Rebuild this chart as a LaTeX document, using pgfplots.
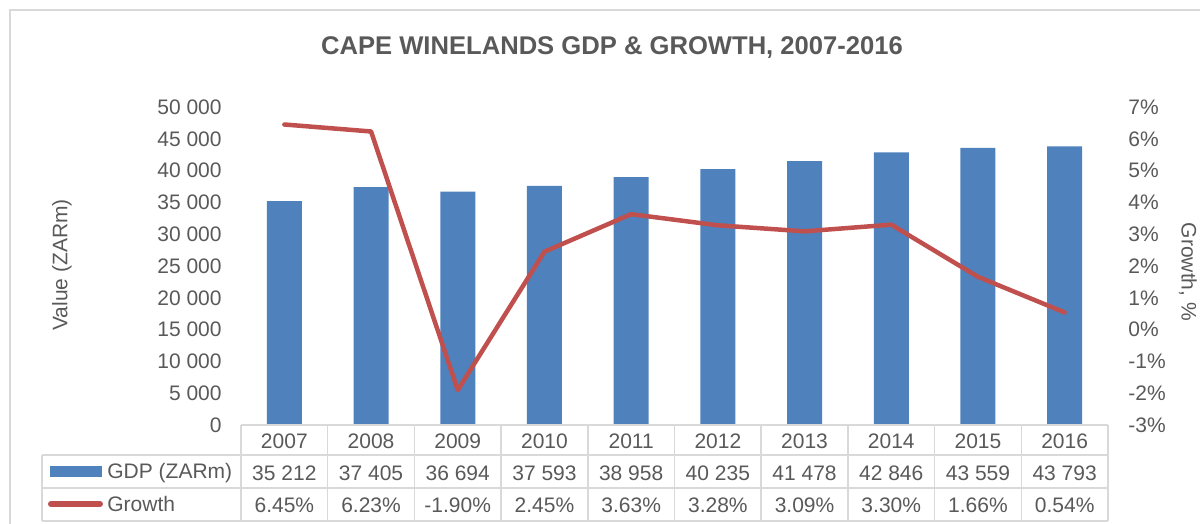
\documentclass[border=0pt]{standalone}
\usepackage{fontspec}
\setmainfont{Liberation Sans}
\usepackage{pgfplots}
\usepackage{pgfplotstable}
\pgfplotsset{compat=1.18}

\definecolor{gdpblue}{HTML}{4F81BD}
\definecolor{growred}{HTML}{C0504D}
\definecolor{txtgray}{HTML}{595959}
\definecolor{linegray}{HTML}{D9D9D9}

% x = category index, gdp in ZARm, growth in %
\pgfplotstableread{
x year gdp growth
0 2007 35212 6.45
1 2008 37405 6.23
2 2009 36694 -1.90
3 2010 37593 2.45
4 2011 38958 3.63
5 2012 40235 3.28
6 2013 41478 3.09
7 2014 42846 3.30
8 2015 43559 1.66
9 2016 43793 0.54
}\gdpdata

\pgfplotsset{
  basechart/.style={
    at={(120.5pt,49.5pt)}, anchor=south west,
    scale only axis, width=433.5pt, height=159pt,
    xmin=-0.5, xmax=9.5,
    axis line style={draw=none},
    major tick length=0pt, tick style={draw=none},
    clip=false,
    tick label style={font=\fontsize{10.5}{12}\selectfont, text=txtgray, inner sep=0pt},
    /pgf/number format/assume math mode=true,
  },
}

\begin{document}
\begin{tikzpicture}
\path[use as bounding box] (0pt,0pt) rectangle (600pt,262pt);
\draw[linegray, line width=0.75pt] (5pt,0pt) -- (5pt,257pt) -- (600pt,257pt);

\node[anchor=base, inner sep=0pt, text=txtgray, font=\bfseries\fontsize{12.8}{15}\selectfont]
  at (306pt,234.9pt) {CAPE WINELANDS GDP \& GROWTH, 2007-2016};

% bars, left axis; the x tick labels form the data table
\begin{axis}[basechart,
  ymin=0, ymax=50000,
  ytick={0,5000,...,50000},
  scaled y ticks=false,
  /pgf/number format/1000 sep={\ },
  yticklabel style={anchor=east, xshift=-9.5pt},
  xtick={0,...,9},
  xticklabels={{2007\\35 212\\6.45\%},{2008\\37 405\\6.23\%},{2009\\36 694\\-1.90\%},
    {2010\\37 593\\2.45\%},{2011\\38 958\\3.63\%},{2012\\40 235\\3.28\%},
    {2013\\41 478\\3.09\%},{2014\\42 846\\3.30\%},{2015\\43 559\\1.66\%},{2016\\43 793\\0.54\%}},
  xticklabel style={anchor=north, align=center, font=\fontsize{10.5}{16}\selectfont, yshift=-4.2pt},
]
\addplot[ybar, bar width=17.5pt, fill=gdpblue, draw=none] table[x=x, y=gdp] {\gdpdata};
\end{axis}

% growth line, right axis
\begin{axis}[basechart,
  ymin=-3, ymax=7,
  ytick={-3,...,7},
  yticklabel pos=right,
  yticklabel={\pgfmathprintnumber{\tick}\%},
  yticklabel style={anchor=west, xshift=10pt},
  xtick=\empty,
]
\addplot[growred, line width=2.25pt, line join=round, line cap=round] table[x=x, y=growth] {\gdpdata};
\end{axis}

% axis titles
\node[rotate=90, text=txtgray, font=\fontsize{10.5}{12}\selectfont] at (31pt,129.5pt) {Value (ZARm)};
\node[rotate=-90, text=txtgray, font=\fontsize{10.5}{12}\selectfont] at (594pt,126pt) {Growth, \%};

% data table grid
\begin{scope}[linegray, line width=0.75pt]
\foreach \k in {0,...,10}
  \draw ({120.5pt+\k*43.35pt},49.5pt) -- ({120.5pt+\k*43.35pt},1.5pt);
\draw (120.5pt,49.5pt) -- (554pt,49.5pt);
\draw (21pt,34.5pt) -- (554pt,34.5pt);
\draw (21pt,18pt) -- (554pt,18pt);
\draw (21pt,1.5pt) -- (554pt,1.5pt);
\draw (21pt,34.5pt) -- (21pt,1.5pt);
\end{scope}

% legend keys in the table
\fill[gdpblue] (25pt,23.5pt) rectangle (51pt,29pt);
\node[anchor=base west, inner sep=0pt, text=txtgray, font=\fontsize{10.5}{12}\selectfont]
  at (53.5pt,22.6pt) {GDP (ZARm)};
\draw[growred, line width=3pt, line cap=round] (25.5pt,10pt) -- (50pt,10pt);
\node[anchor=base west, inner sep=0pt, text=txtgray, font=\fontsize{10.5}{12}\selectfont]
  at (53.5pt,6.2pt) {Growth};
\end{tikzpicture}
\end{document}
